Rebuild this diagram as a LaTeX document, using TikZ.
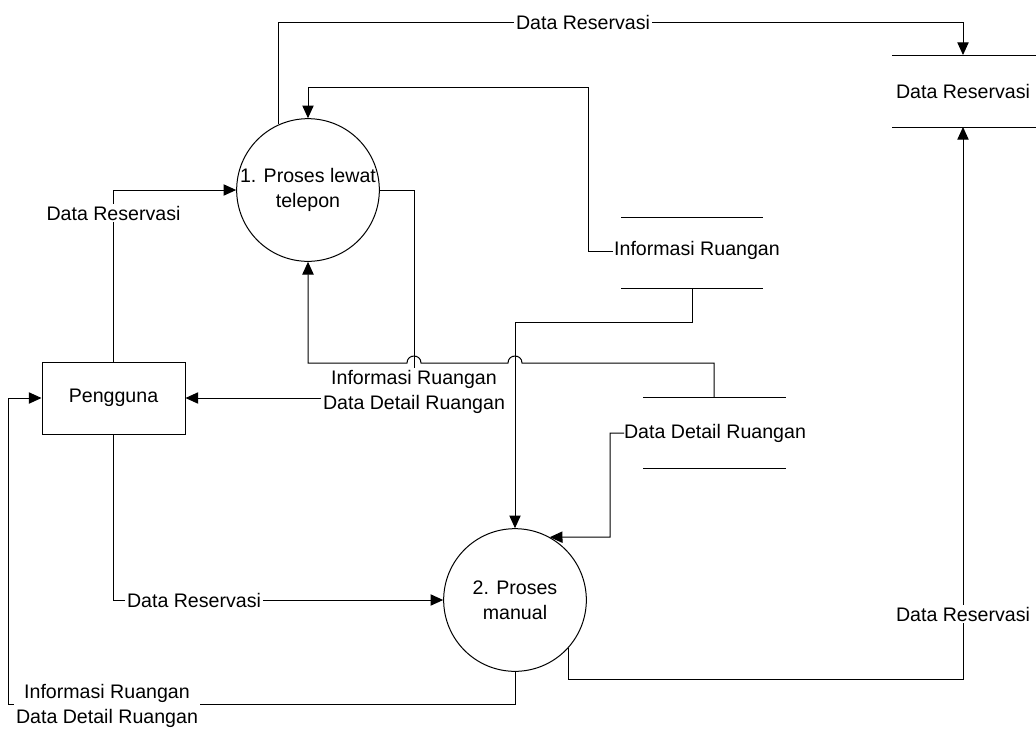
\documentclass[tikz,border=0pt]{standalone}
\usepackage{fontspec}
\setmainfont{Liberation Sans}
\usetikzlibrary{arrows.meta}
\begin{document}
\begin{tikzpicture}[x=0.75pt,y=-0.75pt,
  every node/.style={font=\fontsize{14.7pt}{18.75pt}\selectfont},
  line/.style={draw=black, line width=0.75pt},
  arr/.style={line, -{Triangle[length=9.5pt,width=8.5pt]}},
  proc/.style={circle, draw, line width=0.75pt, minimum size=107pt, inner sep=0pt},
  ent/.style={rectangle, draw, line width=0.75pt, minimum width=107.25pt, minimum height=54pt, inner sep=0pt},
  lbl/.style={fill=white, inner sep=1.5pt, align=center},
  ptxt/.style={align=center, inner sep=0pt}]
\useasboundingbox (0,0) rectangle (1036,729);

% processes and entity
\node[proc] (p1) at (308,190) {};
\node[ptxt] (p1t) at (308,190) {1. Proses lewat\\telepon};
\node[proc] (p2) at (515,600) {};
\node[ptxt] (p2t) at (515,600) {2. Proses\\manual};
\node[ent] (peng) at (113.5,398) {Pengguna};

% data stores
\node (dsR) at (963,91) {Data Reservasi};
\draw[line] (892,55) -- (1036,55);
\draw[line] (892,127) -- (1036,127);
\coordinate (dsRtop) at (963,55);
\coordinate (dsRbot) at (963,127);

\node (dsI) at (697,250) {Informasi Ruangan};
\draw[line] (621,217) -- (763,217);
\draw[line] (621,288) -- (763,288);
\coordinate (dsIin) at (613,251);
\coordinate (dsIbot) at (692,288);

\node (dsD) at (715,433) {Data Detail Ruangan};
\draw[line] (643,397) -- (786,397);
\draw[line] (643,468) -- (786,468);
\coordinate (dsDtop) at (714,397);
\coordinate (dsDin) at (624,433);

% flows
\draw[arr] (p1.114) |- (963,22) -- (dsRtop);
\node[lbl] (l1) at (583,22) {Data Reservasi};

\draw[arr] (dsIin) -- (588,251) -- (588,87) -- (308,87) -- (p1.north);

\draw[arr] (peng.north) |- (p1.west);
\node[lbl] (l2) at (113.5,213) {Data Reservasi};

\draw[arr] (p1.east) -| (414,398) -- (peng.east);
\node[lbl] (l3) at (414,392) {Informasi Ruangan\\Data Detail Ruangan};

\draw[arr] (dsDtop) -- (714,363) -- (522,363) .. controls (522,353.7) and (508,353.7) .. (508,363) -- (421,363) .. controls (421,353.7) and (407,353.7) .. (407,363) -- (308,363) -- (p1.south);

\draw[arr] (dsIbot) -- (692,322) -- (515,322) -- (p2.north);
\draw[arr] (dsDin) -- (610,433) -- (610,537) -- (p2.61);

\draw[arr] (peng.south) |- (p2.west);
\node[lbl] (l4) at (194,600) {Data Reservasi};

\draw[arr] (p2.south) -- (515,704) -- (8,704) -- (8,398) -- (peng.west);
\node[lbl] (l5) at (107,705.5) {Informasi Ruangan\\Data Detail Ruangan};

\draw[arr] (p2.-42.6) |- (963,679) -- (dsRbot);
\node[lbl] (l6) at (963,614) {Data Reservasi};
\end{tikzpicture}
\end{document}
